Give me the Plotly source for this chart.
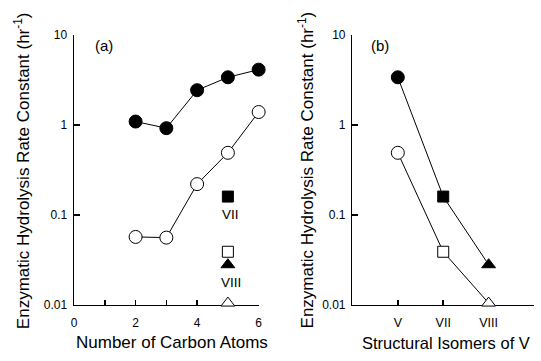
import plotly.graph_objects as go

# ---- data ----
carbon_atoms = [2, 3, 4, 5, 6]
filled_a = [1.09, 0.92, 2.43, 3.38, 4.11]
open_a = [0.057, 0.056, 0.22, 0.49, 1.39]

isomers = ["V", "VII", "VIII"]
filled_b = [3.38, 0.16, 0.028]
open_b = [0.49, 0.039, 0.0105]

x_ticks_a = [0, 1, 2, 3, 4, 5, 6]
x_ticktext_a = ["0", "", "2", "", "4", "", "6"]
y_ticks = [0.01, 0.1, 1, 10]
y_ticktext = ["0.01", "0.1", "1", "10"]
y_minor_ticks = [round(d * m, 4) for d in (0.01, 0.1, 1) for m in range(2, 10)]

# isomer points drawn at C5 in panel (a)
iso_x = [5, 5, 5, 5]
iso_vals = [filled_b[1], open_b[1], filled_b[2], open_b[2]]
iso_symbols = ["square", "square", "triangle-up", "triangle-up"]
iso_fill = ["black", "white", "black", "white"]

iso_pos = [i + 1 for i in range(len(isomers))]
b_symbols = ["circle", "square", "triangle-up"]
b_sizes = [13, 11, 12]

FONT = "Liberation Sans, Arial, Helvetica, sans-serif"
W, H = 541, 361

fig = go.Figure()
line = dict(color="black", width=1)

fig.add_trace(go.Scatter(x=carbon_atoms, y=filled_a, mode="lines+markers",
                         line=line, cliponaxis=False,
                         marker=dict(symbol="circle", size=13, color="black", opacity=1,
                                     line=dict(color="black", width=1)),
                         xaxis="x", yaxis="y"))
fig.add_trace(go.Scatter(x=carbon_atoms, y=open_a, mode="lines+markers",
                         line=line, cliponaxis=False,
                         marker=dict(symbol="circle", size=13, color="white", opacity=1,
                                     line=dict(color="black", width=1)),
                         xaxis="x", yaxis="y"))
fig.add_trace(go.Scatter(x=iso_x, y=iso_vals, mode="markers", cliponaxis=False,
                         marker=dict(symbol=iso_symbols, size=[11, 11, 12, 12],
                                     color=iso_fill, opacity=1,
                                     line=dict(color="black", width=1)),
                         xaxis="x", yaxis="y"))

fig.add_trace(go.Scatter(x=iso_pos, y=filled_b, mode="lines+markers",
                         line=line, cliponaxis=False,
                         marker=dict(symbol=b_symbols, size=b_sizes, color="black", opacity=1,
                                     line=dict(color="black", width=1)),
                         xaxis="x2", yaxis="y2"))
fig.add_trace(go.Scatter(x=iso_pos, y=open_b, mode="lines+markers",
                         line=line, cliponaxis=False,
                         marker=dict(symbol=b_symbols, size=b_sizes, color="white", opacity=1,
                                     line=dict(color="black", width=1)),
                         xaxis="x2", yaxis="y2"))


def px_x(p):
    return p / W


def px_y(p):
    return 1 - p / H


ydom = [px_y(310), px_y(29)]

axis_line = dict(showline=True, linecolor="black", linewidth=1.5,
                 showgrid=False, zeroline=False, layer="below traces")

yaxis_common = dict(type="log", range=[-2, 1], domain=ydom,
                    ticks="inside", ticklen=6, tickwidth=1.5, tickcolor="black",
                    tickmode="array", tickvals=y_ticks, ticktext=y_ticktext,
                    ticklabelstandoff=3,
                    tickfont=dict(family=FONT, size=12, color="black"),
                    **axis_line)

yminor_common = dict(type="log", range=[-2, 1], domain=ydom, side="left",
                     ticks="inside", ticklen=3, tickwidth=1, tickcolor="black",
                     tickmode="array", tickvals=y_minor_ticks,
                     showticklabels=False, showline=False, showgrid=False,
                     zeroline=False, layer="below traces")

fig.update_layout(
    width=W, height=H,
    margin=dict(l=0, r=0, t=0, b=0),
    paper_bgcolor="white", plot_bgcolor="white",
    showlegend=False,
    hovermode=False,
    font=dict(family=FONT, color="black"),
    xaxis=dict(domain=[px_x(72), px_x(259)], range=[0, 6], anchor="y",
               ticks="inside", ticklen=5, tickwidth=1.5, tickcolor="black",
               tickmode="array", tickvals=x_ticks_a, ticktext=x_ticktext_a,
               ticklabelstandoff=6,
               tickfont=dict(family=FONT, size=12, color="black"), **axis_line),
    yaxis=dict(anchor="x", **yaxis_common),
    xaxis2=dict(domain=[px_x(354), px_x(538)], range=[0, 4], anchor="y2",
                ticks="inside", ticklen=5, tickwidth=1.5, tickcolor="black",
                tickmode="array",
                tickvals=iso_pos + [len(isomers) + 1], ticktext=isomers + [""],
                ticklabelstandoff=6,
                tickfont=dict(family=FONT, size=12.5, color="black"), **axis_line),
    yaxis2=dict(anchor="x2", **yaxis_common),
    yaxis3=dict(anchor="x", overlaying="y", **yminor_common),
    yaxis4=dict(anchor="x2", overlaying="y2", **yminor_common),
)

ytitle = "Enzymatic Hydrolysis Rate Constant (hr<sup>-1</sup>)"
ann = [
    dict(text=ytitle, x=px_x(20), y=px_y(170), textangle=-90, size=17),
    dict(text=ytitle, x=px_x(307), y=px_y(170), textangle=-90, size=17),
    dict(text="Number of Carbon Atoms", x=px_x(171), y=px_y(349), size=17),
    dict(text="Structural Isomers of V", x=px_x(449), y=px_y(350), size=16.5),
    dict(text="(a)", x=px_x(102), y=px_y(40), size=15),
    dict(text="(b)", x=px_x(382), y=px_y(40), size=15),
    dict(text="VII", x=px_x(230), y=px_y(216), size=13.5),
    dict(text="VIII", x=px_x(231), y=px_y(287), size=13.5),
]
for a in ann:
    fig.add_annotation(text=a["text"], x=a["x"], y=a["y"], xref="paper", yref="paper",
                       xanchor="center", yanchor="middle", showarrow=False,
                       textangle=a.get("textangle", 0),
                       font=dict(family=FONT, size=a["size"], color="black"))

fig.write_html("out.html",
               config={"displayModeBar": False, "staticPlot": True},
               post_script="document.body.style.margin='0';document.body.style.padding='0';")
